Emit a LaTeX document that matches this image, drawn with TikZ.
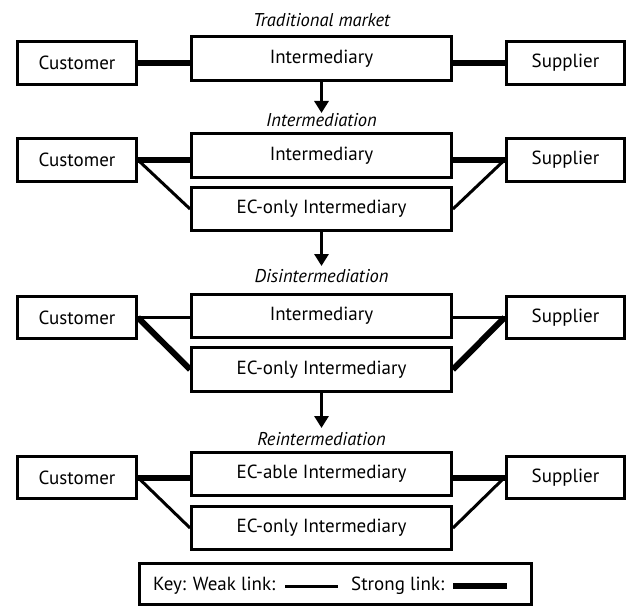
\documentclass[tikz,border=0pt]{standalone}
\usepackage{fontspec}
\setmainfont{PT Sans}
\usetikzlibrary{arrows.meta}
\begin{document}
\begin{tikzpicture}[x=1pt,y=-1pt,
  box/.style={draw,line width=3.4pt,inner sep=0pt,font=\fontsize{19}{21}\selectfont},
  endbox/.style={box,minimum width=118.5pt,minimum height=42.5pt},
  midbox/.style={box,minimum width=259.5pt,minimum height=43.5pt},
  title/.style={font=\fontsize{18.5}{20}\selectfont\itshape,inner sep=0pt},
  weak/.style={line width=3pt},
  strong/.style={line width=6pt},
  flow/.style={line width=3pt,-{Triangle[width=14pt,length=12pt]}}]
\useasboundingbox[fill=white] (0,0) rectangle (634,607);
% section 1
\node[title] (t1) at (321.5,20) {Traditional market};
\node[endbox] (c1) at (77,63) {Customer};
\node[midbox] (i1) at (321.5,58.5) {Intermediary};
\node[endbox] (s1) at (565.5,63) {Supplier};
\draw[strong] (c1.east) -- (c1.east -| i1.west);
\draw[strong] (s1.west) -- (s1.west -| i1.east);
% section 2
\node[title] (t2) at (321.5,120) {Intermediation};
\node[endbox] (c2) at (77,160) {Customer};
\node[midbox] (i2) at (321.5,155.5) {Intermediary};
\node[midbox] (e2) at (321.5,209) {EC-only Intermediary};
\node[endbox] (s2) at (565.5,160) {Supplier};
\draw[strong] (c2.east) -- (c2.east -| i2.west);
\draw[strong] (s2.west) -- (s2.west -| i2.east);
\draw[weak] (c2.east) -- (e2.west);
\draw[weak] (s2.west) -- (e2.east);
% section 3
\node[title] (t3) at (321.5,276) {Disintermediation};
\node[endbox] (c3) at (77,317.5) {Customer};
\node[midbox] (i3) at (321.5,316) {Intermediary};
\node[midbox] (e3) at (321.5,369.5) {EC-only Intermediary};
\node[endbox] (s3) at (565.5,317.5) {Supplier};
\draw[weak] (c3.east) -- (c3.east -| i3.west);
\draw[weak] (s3.west) -- (s3.west -| i3.east);
\draw[strong] (c3.east) -- (e3.west);
\draw[strong] (s3.west) -- (e3.east);
% section 4
\node[title] (t4) at (321.5,439) {Reintermediation};
\node[endbox] (c4) at (77,477.5) {Customer};
\node[midbox] (i4) at (321.5,474) {EC-able Intermediary};
\node[midbox] (e4) at (321.5,528) {EC-only Intermediary};
\node[endbox] (s4) at (565.5,477.5) {Supplier};
\draw[strong] (c4.east) -- (c4.east -| i4.west);
\draw[strong] (s4.west) -- (s4.west -| i4.east);
\draw[weak] (c4.east) -- (e4.west);
\draw[weak] (s4.west) -- (e4.east);
% arrows
\coordinate (a1) at (321.5,113);
\coordinate (a2) at (321.5,266);
\coordinate (a3) at (321.5,428);
\draw[flow] (i1.south) -- (a1);
\draw[flow] (e2.south) -- (a2);
\draw[flow] (e3.south) -- (a3);
% key
\node[box,minimum width=391.5pt,minimum height=41pt] (key) at (335.5,584) {};
\node[anchor=west,inner sep=0pt,font=\fontsize{19}{21}\selectfont] (kw) at (153,586) {Key: Weak link:};
\coordinate (w1) at (285,586);
\coordinate (w2) at (338,586);
\draw[weak] (w1) -- (w2);
\node[anchor=west,inner sep=0pt,font=\fontsize{19}{21}\selectfont] (ks) at (351,586) {Strong link:};
\coordinate (g1) at (453,586);
\coordinate (g2) at (507,586);
\draw[line width=6.5pt] (g1) -- (g2);
\end{tikzpicture}
\end{document}
